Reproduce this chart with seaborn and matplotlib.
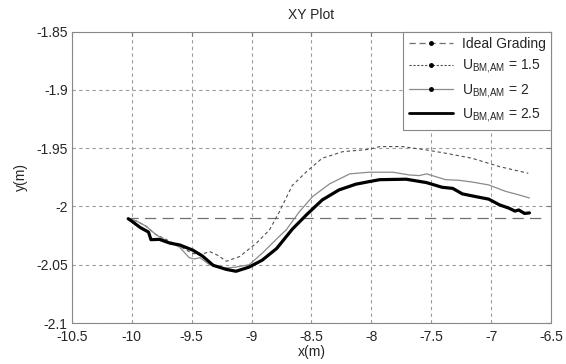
import numpy as np
import pandas as pd
import matplotlib
matplotlib.use('Agg')
import matplotlib.pyplot as plt
import seaborn as sns
from matplotlib.lines import Line2D

# values
ideal_x = [-10.04, -6.55]
ideal_y = [-2.0095, -2.0095]

u15_x = [-10.03, -9.95, -9.88, -9.80, -9.70, -9.60, -9.50, -9.43, -9.35, -9.28, -9.21, -9.10,
         -8.96, -8.85, -8.77, -8.66, -8.54, -8.41, -8.24, -8.02, -7.93, -7.74, -7.54, -7.38,
         -7.16, -6.93, -6.69]
u15_y = [-2.010, -2.013, -2.017, -2.024, -2.029, -2.034, -2.040, -2.0415, -2.0387, -2.042, -2.047, -2.043,
         -2.0315, -2.020, -2.005, -1.982, -1.970, -1.9586, -1.953, -1.951, -1.9486, -1.9486, -1.9515, -1.9543,
         -1.9586, -1.9658, -1.9715]

u2_x = [-10.03, -9.95, -9.88, -9.80, -9.70, -9.60, -9.52, -9.48, -9.43, -9.35, -9.24, -9.13,
        -9.02, -8.91, -8.77, -8.71, -8.60, -8.49, -8.35, -8.18, -8.02, -7.82, -7.68, -7.60,
        -7.54, -7.38, -7.27, -7.16, -7.02, -6.88, -6.77, -6.68]
u2_y = [-2.010, -2.013, -2.017, -2.024, -2.030, -2.035, -2.044, -2.045, -2.044, -2.050, -2.053, -2.052,
        -2.050, -2.040, -2.0258, -2.020, -2.0044, -1.9915, -1.9807, -1.972, -1.9706, -1.9706, -1.973, -1.9735,
        -1.972, -1.977, -1.9775, -1.979, -1.9815, -1.987, -1.990, -1.9927]

u25_x = [-10.03, -10.00, -9.93, -9.86, -9.84, -9.77, -9.68, -9.60, -9.49, -9.41, -9.32, -9.21,
         -9.13, -9.02, -8.91, -8.79, -8.66, -8.54, -8.41, -8.27, -8.13, -8.02, -7.93, -7.71,
         -7.54, -7.41, -7.32, -7.24, -7.13, -7.02, -6.93, -6.85, -6.80, -6.77, -6.72, -6.68]
u25_y = [-2.0105, -2.0126, -2.0180, -2.0220, -2.0285, -2.0282, -2.0315, -2.0330, -2.0375, -2.0425, -2.0505, -2.0540,
         -2.0556, -2.0520, -2.0460, -2.0360, -2.0195, -2.0070, -1.9944, -1.9858, -1.9809, -1.9787, -1.9770, -1.9766,
         -1.9795, -1.9835, -1.9845, -1.9892, -1.9915, -1.9937, -1.9986, -2.0015, -2.0040, -2.0030, -2.0060, -2.0055]

x_ticks = [-10.5, -10, -9.5, -9, -8.5, -8, -7.5, -7, -6.5]
y_ticks = [-2.1, -2.05, -2, -1.95, -1.9, -1.85]

sns.set_style('white')
plt.rcParams['font.family'] = ['Liberation Sans', 'DejaVu Sans']
plt.rcParams['mathtext.fontset'] = 'custom'
plt.rcParams['mathtext.rm'] = 'Liberation Sans'
plt.rcParams['mathtext.it'] = 'Liberation Sans'

fig = plt.figure(figsize=(5.66, 3.64), dpi=100)
ax = fig.add_axes([0.127, 0.1126, 0.8465, 0.8004])

sns.lineplot(x=ideal_x, y=ideal_y, ax=ax, color='#707070', lw=0.9, sort=False, estimator=None,
             linestyle=(0, (9, 5)))
sns.lineplot(x=u15_x, y=u15_y, ax=ax, color='#505050', lw=0.8, sort=False, estimator=None,
             linestyle=(0, (3, 2.5)))
sns.lineplot(x=u2_x, y=u2_y, ax=ax, color='#8a8a8a', lw=0.9, sort=False, estimator=None)
sns.lineplot(x=u25_x, y=u25_y, ax=ax, color='black', lw=2.3, sort=False, estimator=None)

ax.set_xlim(-10.5, -6.5)
ax.set_ylim(-2.1, -1.85)
ax.set_xticks(x_ticks)
ax.set_yticks(y_ticks)
ax.set_xticklabels(['%g' % t for t in x_ticks])
ax.set_yticklabels(['%g' % t for t in y_ticks])
ax.grid(True, color='#9a9a9a', linestyle=(0, (3, 3)), lw=0.8)
ax.tick_params(direction='in', length=3, top=True, right=True, labelsize=10, color='#777777')
ax.tick_params(axis='x', pad=5)
ax.tick_params(axis='y', pad=3)
for s in ax.spines.values():
    s.set_color('#888888')
    s.set_linewidth(0.8)

ax.set_title('XY Plot', fontsize=10, pad=9)
ax.set_xlabel('x(m)', fontsize=10, labelpad=1)
ax.set_ylabel('y(m)', fontsize=10, labelpad=6)

handles = [
    Line2D([], [], color='#707070', lw=0.9, linestyle=(0, (5, 3)), marker='.', markersize=5,
           markerfacecolor='black', markeredgecolor='black'),
    Line2D([], [], color='#505050', lw=0.8, linestyle=(0, (2, 1.5)), marker='.', markersize=5,
           markerfacecolor='black', markeredgecolor='black'),
    Line2D([], [], color='#8a8a8a', lw=0.9, marker='.', markersize=5,
           markerfacecolor='black', markeredgecolor='black'),
    Line2D([], [], color='black', lw=2.0),
]
labels = ['Ideal Grading', r'$\mathrm{U_{BM{,}AM}}$ = 1.5', r'$\mathrm{U_{BM{,}AM}}$ = 2',
          r'$\mathrm{U_{BM{,}AM}}$ = 2.5']
leg = ax.legend(handles, labels, loc='upper right', borderaxespad=0, fancybox=False, framealpha=1,
                edgecolor='#888888', fontsize=10, handlelength=3.2, handletextpad=0.6,
                labelspacing=0.45, borderpad=0.4, numpoints=1)
leg.get_frame().set_linewidth(0.8)

fig.savefig('out.png', dpi=100)
